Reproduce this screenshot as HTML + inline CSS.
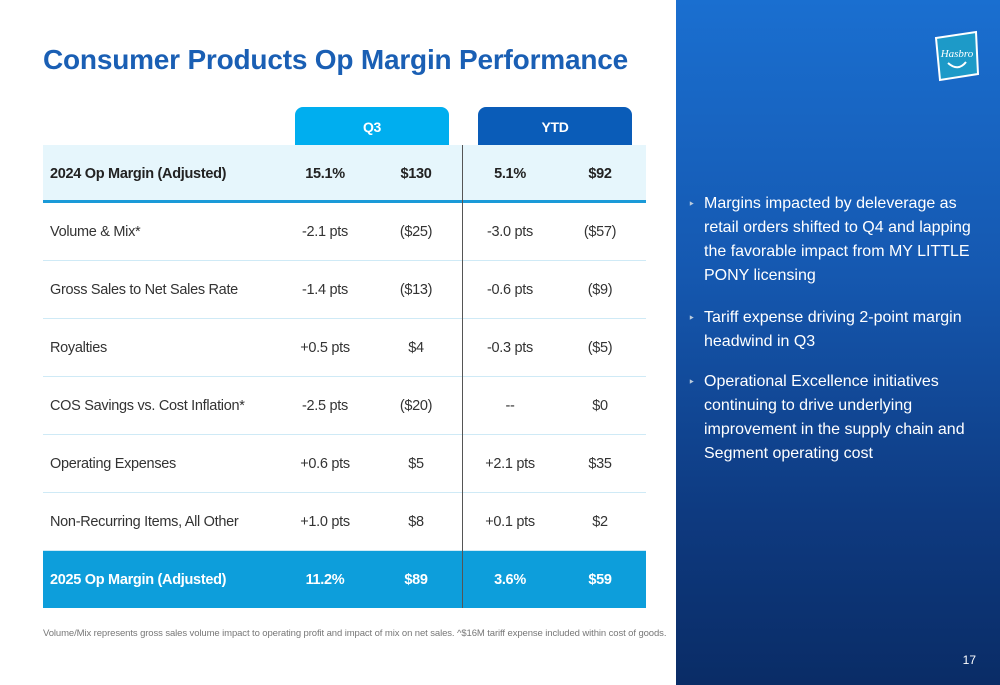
<!DOCTYPE html>
<html><head><meta charset="utf-8"><style>
*{margin:0;padding:0;box-sizing:border-box}
body{width:1000px;height:685px;position:relative;background:#fff;font-family:"Liberation Sans",sans-serif;overflow:hidden}
.title{position:absolute;left:43px;top:44px;font-size:28px;font-weight:bold;color:#1a5fb4;letter-spacing:-0.2px}
.tab{position:absolute;top:107px;height:38px;border-radius:8px 8px 0 0;color:#fff;font-weight:bold;font-size:14px;text-align:center;line-height:40px;letter-spacing:-0.3px}
.row{position:absolute;left:43px;width:603px;height:58px;border-bottom:1px solid #cfeaf6;font-size:14.5px;color:#333;letter-spacing:-0.3px}
.row div{position:absolute;top:0;line-height:58px;white-space:nowrap}
.lbl{left:7px}
.c1{left:252px;width:60px;text-align:center}
.c2{left:343px;width:60px;text-align:center}
.c3{left:437px;width:60px;text-align:center}
.c4{left:527px;width:60px;text-align:center}
.hl{background:#e6f6fc;font-weight:bold;color:#222;border-bottom:3px solid #1a9ad8}
.tot{background:#0d9edb;color:#fff;font-weight:bold;border:none}
.vline{position:absolute;left:462px;top:145px;width:1px;height:463px;background:#555}
.foot{position:absolute;left:43px;top:628px;font-size:9.5px;color:#777;letter-spacing:-0.1px;white-space:nowrap}
.panel{position:absolute;left:676px;top:0;width:324px;height:685px;background:linear-gradient(180deg,#1a6fd0 0%,#1558b0 40%,#0e3a80 75%,#0a2c66 100%)}
.bul{position:absolute;left:28px;color:#fff;font-family:"Liberation Sans",sans-serif;font-size:16px;line-height:24px;width:290px}
.bul::before{content:"‣";position:absolute;left:-16px;font-size:12px;color:#bcd}
.pg{position:absolute;right:24px;top:653px;color:#fff;font-size:12px;font-family:"Liberation Sans",sans-serif}
</style></head><body>
<div class="title">Consumer Products Op Margin Performance</div>
<div class="tab" style="left:295px;width:154px;background:#00aeef">Q3</div>
<div class="tab" style="left:478px;width:154px;background:#0a5cb8">YTD</div>

<div class="row hl" style="top:145px"><div class="lbl">2024 Op Margin (Adjusted)</div><div class="c1">15.1%</div><div class="c2">$130</div><div class="c3">5.1%</div><div class="c4">$92</div></div>
<div class="row" style="top:203px"><div class="lbl">Volume &amp; Mix*</div><div class="c1">-2.1 pts</div><div class="c2">($25)</div><div class="c3">-3.0 pts</div><div class="c4">($57)</div></div>
<div class="row" style="top:261px"><div class="lbl">Gross Sales to Net Sales Rate</div><div class="c1">-1.4 pts</div><div class="c2">($13)</div><div class="c3">-0.6 pts</div><div class="c4">($9)</div></div>
<div class="row" style="top:319px"><div class="lbl">Royalties</div><div class="c1">+0.5 pts</div><div class="c2">$4</div><div class="c3">-0.3 pts</div><div class="c4">($5)</div></div>
<div class="row" style="top:377px"><div class="lbl">COS Savings vs. Cost Inflation*</div><div class="c1">-2.5 pts</div><div class="c2">($20)</div><div class="c3">--</div><div class="c4">$0</div></div>
<div class="row" style="top:435px"><div class="lbl">Operating Expenses</div><div class="c1">+0.6 pts</div><div class="c2">$5</div><div class="c3">+2.1 pts</div><div class="c4">$35</div></div>
<div class="row" style="top:493px"><div class="lbl">Non-Recurring Items, All Other</div><div class="c1">+1.0 pts</div><div class="c2">$8</div><div class="c3">+0.1 pts</div><div class="c4">$2</div></div>
<div class="row tot" style="top:551px;height:57px"><div class="lbl">2025 Op Margin (Adjusted)</div><div class="c1">11.2%</div><div class="c2">$89</div><div class="c3">3.6%</div><div class="c4">$59</div></div>
<div class="vline"></div>
<div class="foot">Volume/Mix represents gross sales volume impact to operating profit and impact of mix on net sales. ^$16M tariff expense included within cost of goods.</div>

<div class="panel">
<svg style="position:absolute;left:256px;top:30px" width="50" height="52" viewBox="0 0 50 52"><polygon points="4,8 44,2 46,44 8,50" fill="#1d9ac8" stroke="#fff" stroke-width="2"/><text x="25" y="27" font-size="11" fill="#fff" text-anchor="middle" font-style="italic" font-family="Liberation Serif,serif">Hasbro</text><path d="M16 33 Q26 42 34 32" stroke="#fff" stroke-width="2" fill="none"/></svg>
<div class="bul" style="top:192px">Margins impacted by deleverage as retail orders shifted to Q4 and lapping the favorable impact from MY LITTLE PONY licensing</div>
<div class="bul" style="top:306px">Tariff expense driving 2-point margin headwind in Q3</div>
<div class="bul" style="top:370px">Operational Excellence initiatives continuing to drive underlying improvement in the supply chain and Segment operating cost</div>
<div class="pg">17</div>
</div>
</body></html>
